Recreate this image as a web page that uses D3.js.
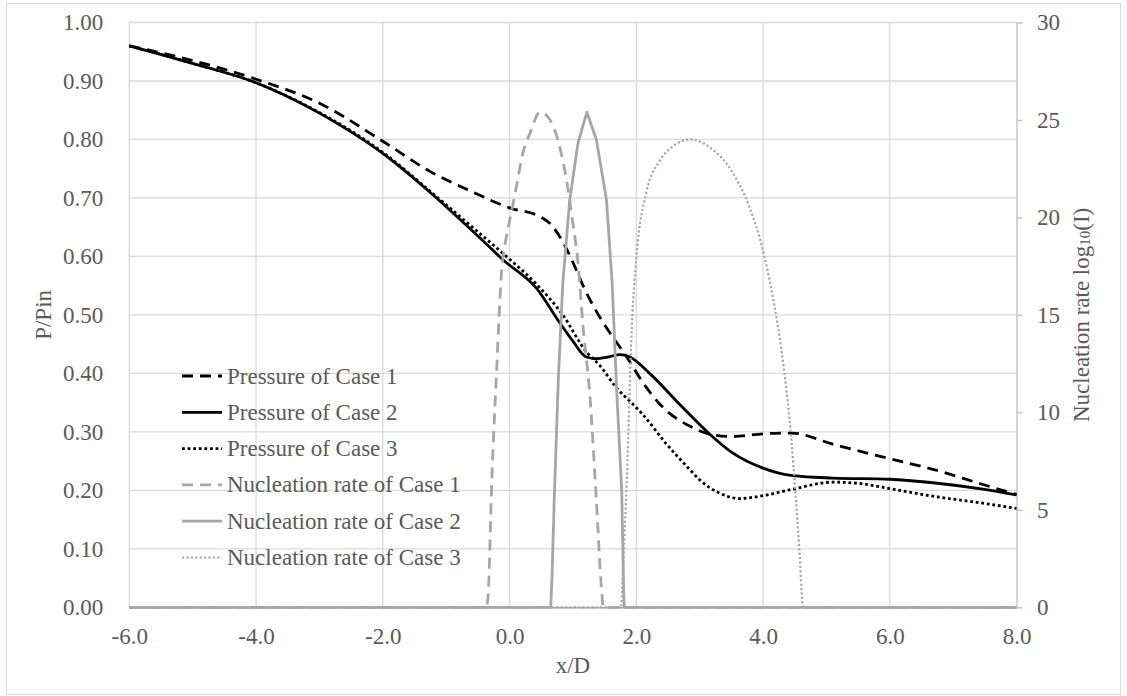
<!DOCTYPE html>
<html>
<head>
<meta charset="utf-8">
<script src="https://cdn.jsdelivr.net/npm/d3@7"></script>
<style>
  html, body { margin: 0; padding: 0; background: #fff; }
  svg { display: block; }
  text { font-family: "Liberation Serif", "Times New Roman", serif; fill: #595959; }
</style>
</head>
<body>
<svg id="chart" width="1127" height="696"></svg>
<script>
// ---- data: position x/D ----
// Pressure ratio P/Pin (left axis)
const pressureCase1 = [
  [-6, 0.960], [-5, 0.935], [-4, 0.903], [-3, 0.862], [-2, 0.797], [-1.25, 0.745],
  [-0.58, 0.710], [0.0, 0.683], [0.5, 0.667], [0.65, 0.655], [0.84, 0.625], [1.0, 0.590],
  [1.16, 0.550], [1.35, 0.510], [1.58, 0.470], [1.85, 0.428], [2.1, 0.385], [2.42, 0.342],
  [2.84, 0.310], [3.2, 0.295], [3.5, 0.292], [4.05, 0.297], [4.45, 0.298], [5.1, 0.279],
  [6.0, 0.254], [6.68, 0.236], [7.47, 0.210], [8.0, 0.193]
];
const pressureCase2 = [
  [-6, 0.960], [-5, 0.930], [-4, 0.897], [-3, 0.845], [-2, 0.776], [-1.27, 0.711],
  [-0.5, 0.635], [-0.1, 0.594], [0.43, 0.545], [0.79, 0.487], [1.0, 0.455], [1.21, 0.428],
  [1.37, 0.425], [1.55, 0.428], [1.75, 0.432], [1.9, 0.428], [2.21, 0.400], [2.73, 0.342],
  [3.16, 0.296], [3.52, 0.264], [4.0, 0.238], [4.47, 0.225], [5.1, 0.221], [6.0, 0.219],
  [6.68, 0.213], [7.47, 0.202], [8.0, 0.192]
];
const pressureCase3 = [
  [-6, 0.960], [-5, 0.930], [-4, 0.897], [-3, 0.846], [-2, 0.778], [-1.27, 0.713],
  [-0.5, 0.642], [-0.05, 0.600], [0.43, 0.552], [0.84, 0.500], [1.21, 0.437], [1.42, 0.414],
  [1.69, 0.375], [1.95, 0.347], [2.1, 0.330], [2.47, 0.280], [2.84, 0.236], [3.0, 0.218],
  [3.3, 0.196], [3.63, 0.186], [4.05, 0.192], [4.47, 0.202], [5.1, 0.214], [5.5, 0.212],
  [6.0, 0.203], [6.68, 0.190], [7.47, 0.178], [8.0, 0.169]
];

// Nucleation rate log10(I) (right axis)
const nucleationCase1 = [
  [-6, 0], [-0.37, 0], [-0.34, 0.5], [-0.28, 6.5], [-0.2, 12.4], [-0.13, 17.0], [-0.05, 19.0],
  [0.0, 19.8], [0.11, 21.6], [0.21, 23.3], [0.32, 24.3], [0.48, 25.4], [0.64, 25.0],
  [0.8, 23.5], [0.9, 21.9], [1.0, 19.7], [1.08, 17.7], [1.16, 14.4], [1.27, 10.8],
  [1.37, 5.5], [1.45, 1.0], [1.48, 0], [8, 0]
];
const nucleationCase2 = [
  [-6, 0], [0.65, 0], [0.67, 1.5], [0.71, 6.0], [0.77, 11.7], [0.84, 16.6], [0.95, 20.9],
  [1.08, 23.8], [1.22, 25.4], [1.37, 24.0], [1.53, 20.9], [1.62, 16.6], [1.69, 11.2],
  [1.77, 6.0], [1.80, 1.0], [1.81, 0], [8, 0]
];
const nucleationCase3 = [
  [-6, 0], [1.76, 0], [1.79, 2.0], [1.85, 6.5], [1.93, 14.4], [2.0, 17.9], [2.16, 21.3],
  [2.37, 22.9], [2.6, 23.7], [2.85, 24.0], [3.16, 23.6], [3.52, 22.3], [3.79, 20.5],
  [4.0, 18.3], [4.15, 16.0], [4.29, 13.2], [4.45, 8.5], [4.58, 2.6], [4.63, 0], [8, 0]
];

// axis ticks
const xTicks = [-6, -4, -2, 0, 2, 4, 6, 8];
const pTicks = [0, 0.1, 0.2, 0.3, 0.4, 0.5, 0.6, 0.7, 0.8, 0.9, 1.0];
const nTicks = [0, 5, 10, 15, 20, 25, 30];

const legendLabels = [
  "Pressure of Case 1", "Pressure of Case 2", "Pressure of Case 3",
  "Nucleation rate of Case 1", "Nucleation rate of Case 2", "Nucleation rate of Case 3"
];

// ---- layout ----
const svg = d3.select("#chart");
const plot = { left: 129.3, right: 1016.5, top: 22.5, bottom: 607.3 };
const fontSize = 23;

const x = d3.scaleLinear().domain([-6, 8]).range([plot.left, plot.right]);
const yP = d3.scaleLinear().domain([0, 1]).range([plot.bottom, plot.top]);
const yN = d3.scaleLinear().domain([0, 30]).range([plot.bottom, plot.top]);

// outer chart border
svg.append("rect")
  .attr("x", 6.5).attr("y", 3.5).attr("width", 1114).attr("height", 691)
  .attr("fill", "none").attr("stroke", "#d9d9d9").attr("stroke-width", 1);

// gridlines
const grid = svg.append("g").attr("stroke", "#d9d9d9").attr("stroke-width", 1.3);
grid.selectAll("line.h").data(pTicks.filter(d => d > 0)).join("line")
  .attr("x1", plot.left).attr("x2", plot.right)
  .attr("y1", d => yP(d)).attr("y2", d => yP(d));
grid.selectAll("line.v").data(xTicks.filter(d => d < 8)).join("line")
  .attr("x1", d => x(d)).attr("x2", d => x(d))
  .attr("y1", plot.top).attr("y2", plot.bottom);

// left axis (labels only)
const leftAxis = svg.append("g")
  .attr("transform", `translate(${plot.left},0)`)
  .call(d3.axisLeft(yP).tickValues(pTicks).tickFormat(d => d.toFixed(2)).tickSize(0).tickPadding(26));
leftAxis.select(".domain").remove();
leftAxis.selectAll("text").style("font-size", fontSize + "px").attr("fill", "#595959");

// bottom axis
const bottomAxis = svg.append("g")
  .attr("transform", `translate(0,${plot.bottom})`)
  .call(d3.axisBottom(x).tickValues(xTicks).tickFormat(d => d.toFixed(1)).tickSize(0));
bottomAxis.select(".domain").attr("stroke", "#a6a6a6").attr("stroke-width", 1.5);
bottomAxis.selectAll("text")
  .style("font-size", fontSize + "px").attr("fill", "#595959")
  .attr("y", 29).attr("dy", null).attr("dominant-baseline", "central");

// right axis
const rightAxis = svg.append("g")
  .attr("transform", `translate(${plot.right},0)`)
  .call(d3.axisRight(yN).tickValues(nTicks).tickSize(6).tickSizeOuter(0).tickPadding(14.5));
rightAxis.select(".domain").attr("stroke", "#bfbfbf").attr("stroke-width", 1.3);
rightAxis.selectAll(".tick line").attr("stroke", "#bfbfbf").attr("stroke-width", 1.3);
rightAxis.selectAll("text").style("font-size", fontSize + "px").attr("fill", "#595959");

// axis titles
svg.append("text")
  .attr("transform", `translate(43,${(plot.top + plot.bottom) / 2}) rotate(-90)`)
  .attr("text-anchor", "middle").attr("dominant-baseline", "central")
  .style("font-size", fontSize + "px").text("P/Pin");

svg.append("text")
  .attr("x", (plot.left + plot.right) / 2).attr("y", 665)
  .attr("text-anchor", "middle").attr("dominant-baseline", "central")
  .style("font-size", fontSize + "px").text("x/D");

const rTitle = svg.append("text")
  .attr("transform", `translate(1081,${(plot.top + plot.bottom) / 2}) rotate(-90)`)
  .attr("text-anchor", "middle").attr("dominant-baseline", "central")
  .style("font-size", fontSize + "px");
rTitle.append("tspan").text("Nucleation rate log");
rTitle.append("tspan").attr("baseline-shift", "-25%").style("font-size", "15px").text("10");
rTitle.append("tspan").text("(I)");

// ---- series ----
const seriesStyles = [
  { data: pressureCase1, y: yP, color: "#000000", width: 2.8, dash: "11,7", curve: d3.curveMonotoneX },
  { data: pressureCase2, y: yP, color: "#000000", width: 2.8, dash: null, curve: d3.curveMonotoneX },
  { data: pressureCase3, y: yP, color: "#000000", width: 2.8, dash: "2.8,2.8", curve: d3.curveMonotoneX },
  { data: nucleationCase1, y: yN, color: "#a6a6a6", width: 2.8, dash: "11,7", curve: d3.curveMonotoneX },
  { data: nucleationCase2, y: yN, color: "#a6a6a6", width: 2.8, dash: null, curve: d3.curveLinear },
  { data: nucleationCase3, y: yN, color: "#a6a6a6", width: 2.2, dash: "2.2,2.2", curve: d3.curveMonotoneX }
];

const seriesG = svg.append("g");
seriesStyles.forEach(s => {
  const line = d3.line().x(d => x(d[0])).y(d => s.y(d[1])).curve(s.curve);
  seriesG.append("path")
    .attr("d", line(s.data))
    .attr("fill", "none")
    .attr("stroke", s.color)
    .attr("stroke-width", s.width)
    .attr("stroke-dasharray", s.dash)
    .attr("stroke-linejoin", "round");
});

// ---- legend ----
const legend = svg.append("g");
const rowY = i => 376 + i * 36.3;
legendLabels.forEach((label, i) => {
  const s = seriesStyles[i];
  legend.append("line")
    .attr("x1", 182).attr("x2", 222)
    .attr("y1", rowY(i)).attr("y2", rowY(i))
    .attr("stroke", s.color).attr("stroke-width", s.width)
    .attr("stroke-dasharray", s.dash);
  legend.append("text")
    .attr("x", 227).attr("y", rowY(i))
    .attr("dominant-baseline", "central")
    .style("font-size", fontSize + "px")
    .text(label);
});
</script>
</body>
</html>
